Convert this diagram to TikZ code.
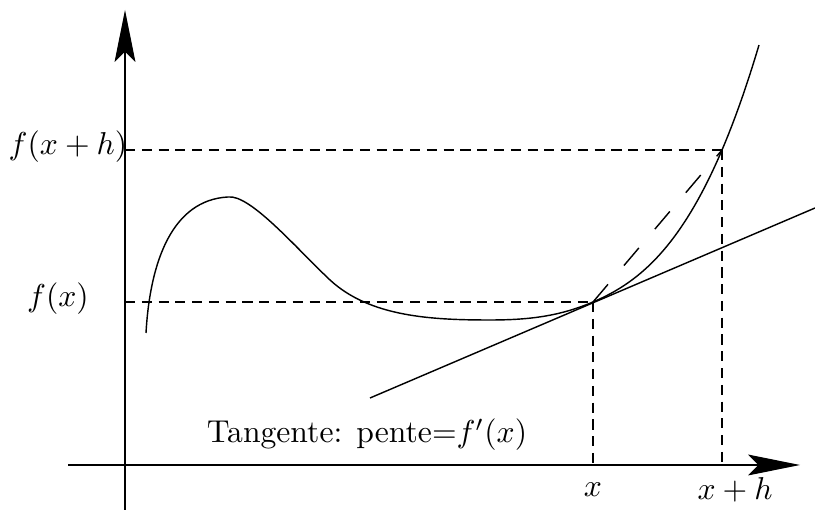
\documentclass[tikz,border=0pt]{standalone}
\usetikzlibrary{arrows.meta}
\begin{document}
\begin{tikzpicture}[x=0.316pt,y=-0.316pt,
  axis/.style={line width=0.45pt,-{Stealth[length=16.4pt,width=6.6pt,inset=3.2pt]}},
  guide/.style={line width=0.45pt,dash pattern=on 3.2pt off 2.1pt},
  secant/.style={line width=0.45pt,dash pattern=on 7.3pt off 7.8pt},
  thin/.style={line width=0.45pt},
  lbl/.style={inner sep=0pt}]
\useasboundingbox (0,0) rectangle (815,512);
% axes
\coordinate (ybot) at (125,510);
\coordinate (ytop) at (125,10);
\coordinate (xl) at (68,465);
\coordinate (xr) at (800,465);
\draw[axis] (ybot) -- (ytop);
\draw[axis] (xl) -- (xr);
% key points
\coordinate (P) at (593,302);
\coordinate (Q) at (722,150);
\coordinate (Py) at (125,302);
\coordinate (Qy) at (125,150);
\coordinate (Px) at (593,465);
\coordinate (Qx) at (722,465);
% guides
\draw[guide] (Py) -- (P);
\draw[guide] (P) -- (Px);
\draw[guide] (Qy) -- (Q);
\draw[guide] (Q) -- (Qx);
% secant
\draw[secant] (P) -- (Q);
% tangent
\coordinate (t1) at (370,398);
\coordinate (t2) at (815,208);
\draw[thin] (t1) -- (t2);
% curve
\coordinate (c0) at (146,333);
\coordinate (c1) at (228,197);
\coordinate (c2) at (330,280);
\coordinate (c3) at (490,320);
\draw[thin] (c0) .. controls (150,262) and (172,200) .. (c1)
  .. controls (250,194) and (296,248) .. (c2)
  .. controls (370,317) and (432,320) .. (c3)
  .. controls (530,320) and (560,316) .. (P)
  plot[domain=0:1.66,samples=50,variable=\u]
   ({593+100*\u},{302-\u*(42.7+\u*(25.78+\u*25.16))});
% labels
\node[lbl] (lfxh) at (68,147) {$f(x+h)$};
\node[lbl] (lfx) at (58,299) {$f(x)$};
\node[lbl] (lx) at (593,490) {$x$};
\node[lbl] (lxh) at (735,490) {$x+h$};
\node[lbl] (ltan) at (367,435) {Tangente: pente=$f'(x)$};
\end{tikzpicture}
\end{document}
